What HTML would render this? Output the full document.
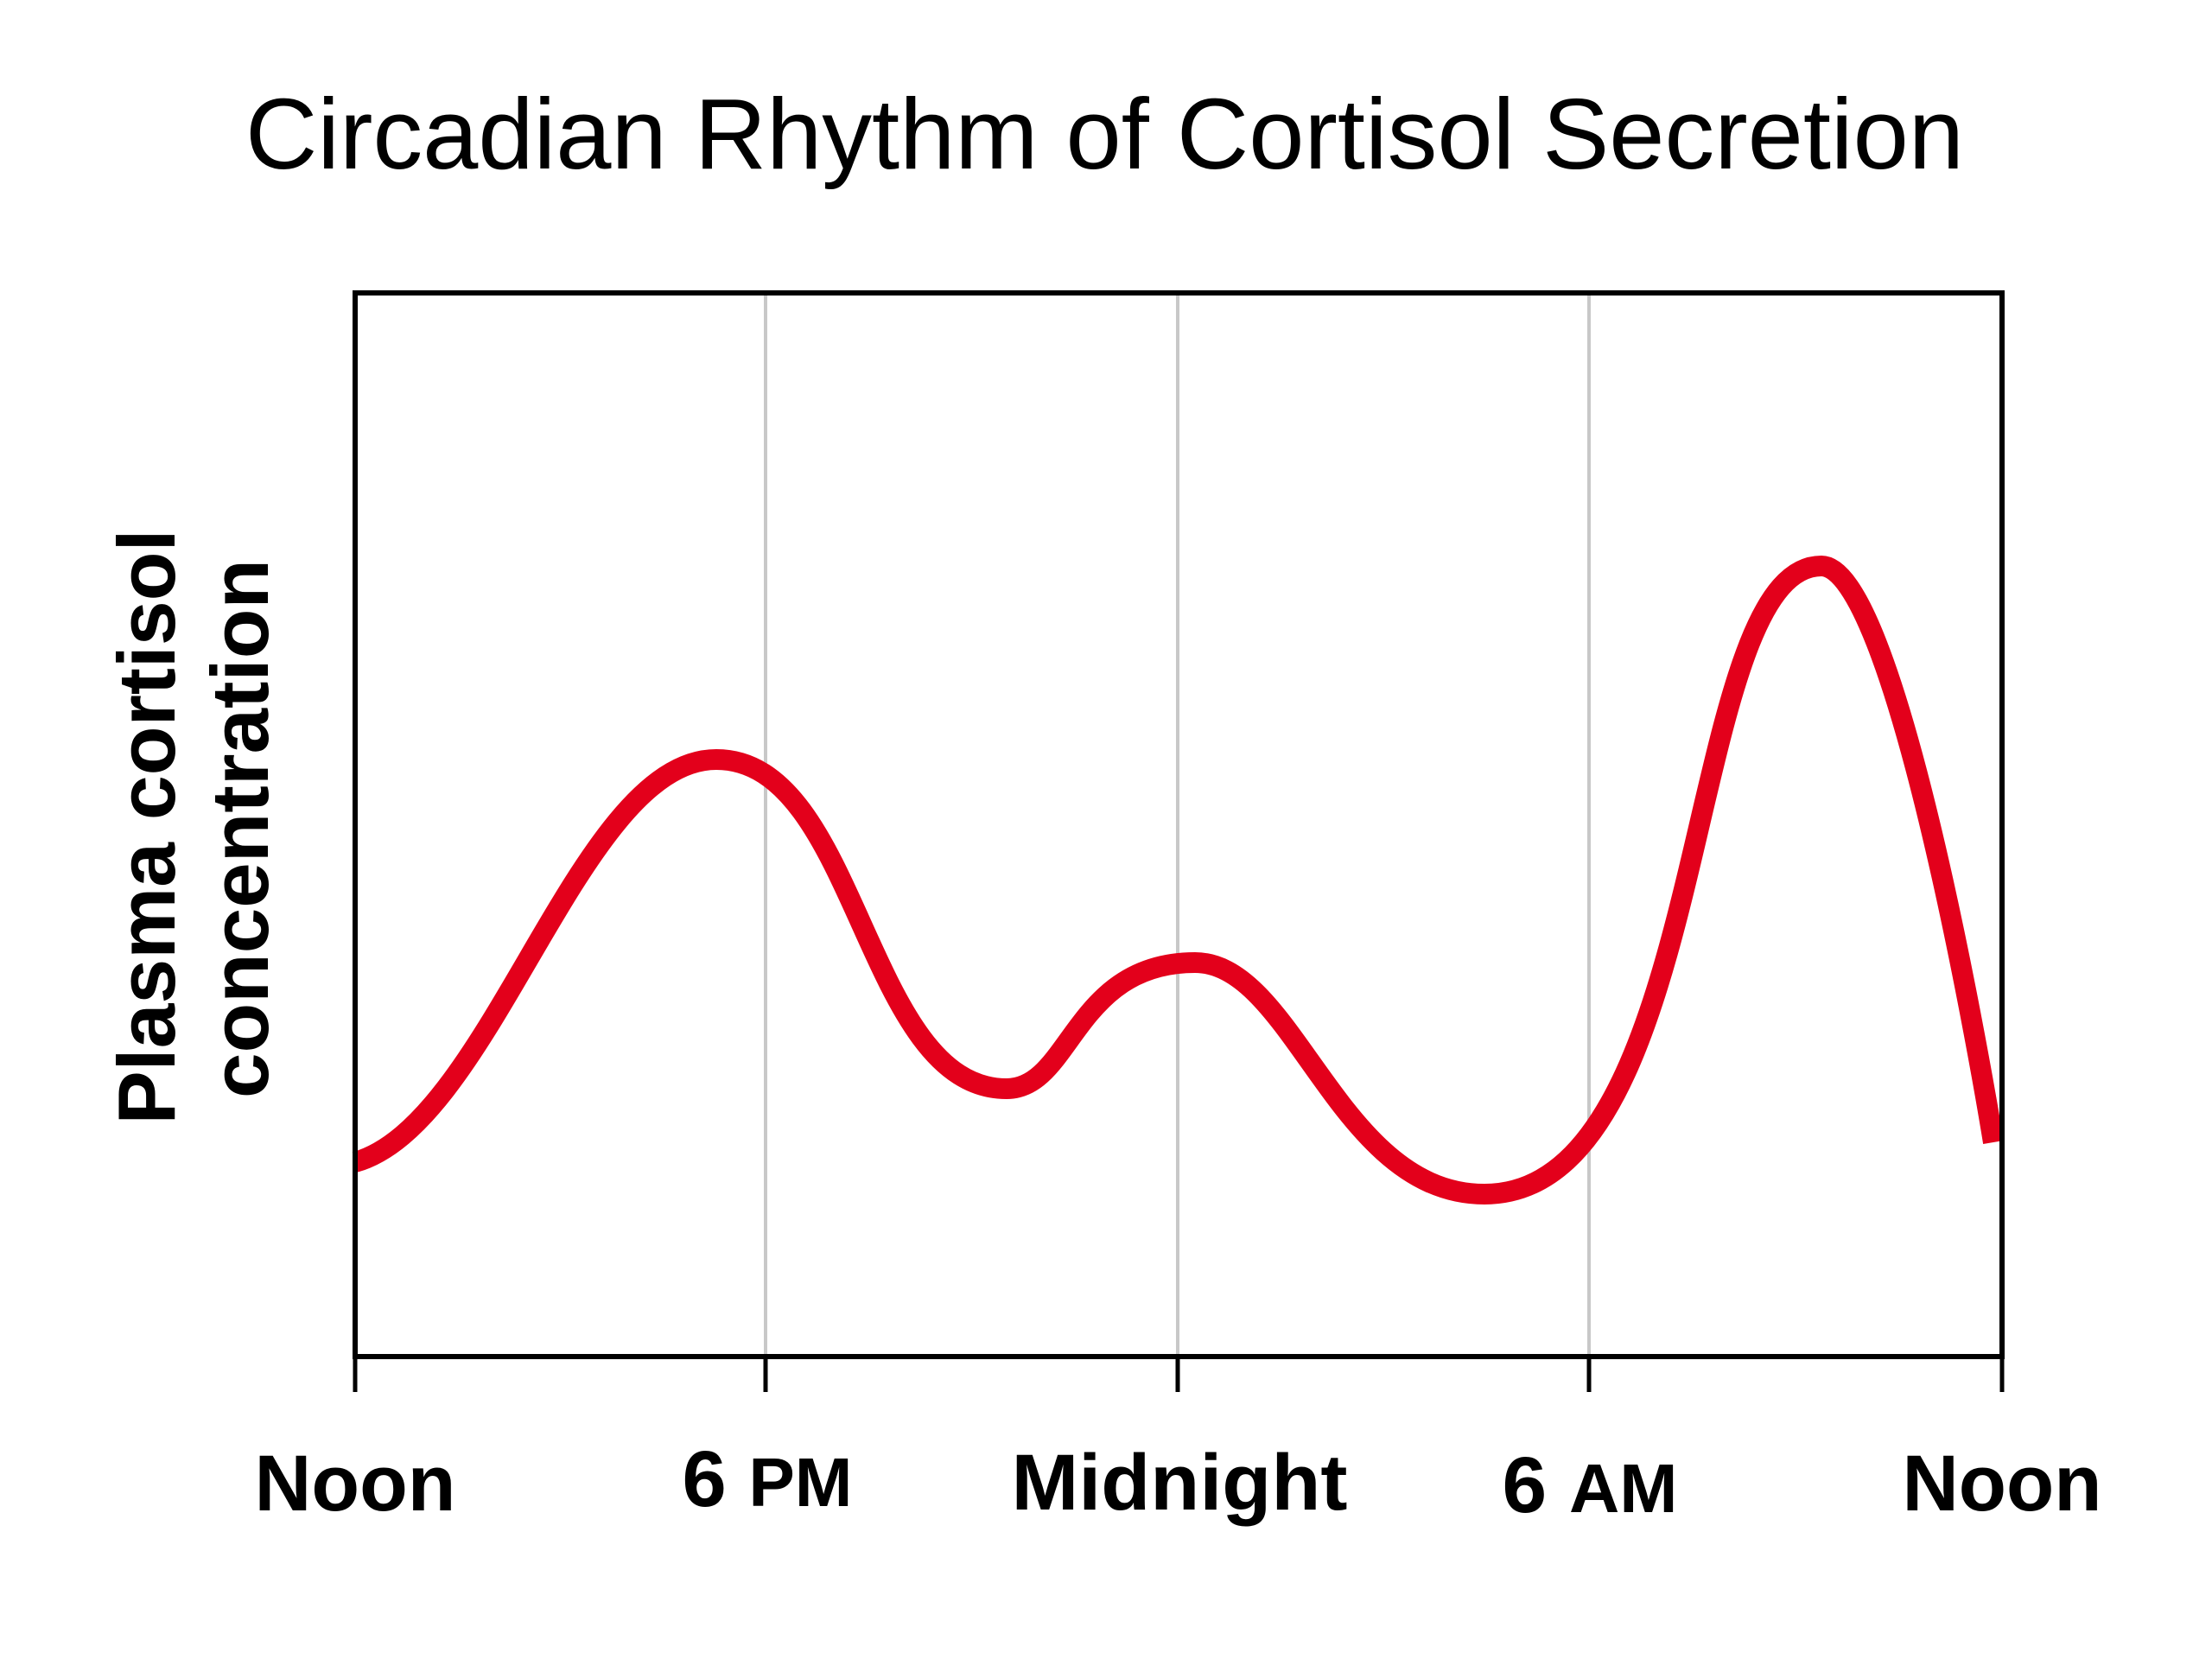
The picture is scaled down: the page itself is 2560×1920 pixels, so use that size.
<!DOCTYPE html>
<html>
<head>
<meta charset="utf-8">
<style>
  html, body { margin: 0; padding: 0; background: #ffffff; }
  body { width: 2560px; height: 1920px; overflow: hidden; }
  svg { display: block; }
</style>
</head>
<body>
<svg width="2560" height="1920" viewBox="0 0 2560 1920" xmlns="http://www.w3.org/2000/svg">
  <rect x="0" y="0" width="2560" height="1920" fill="#ffffff"/>

  <text x="284" y="195" font-family="'Liberation Sans', sans-serif" font-size="116" fill="#000" textLength="1989" lengthAdjust="spacingAndGlyphs">Circadian Rhythm of Cortisol Secretion</text>

  <g stroke="#c8c8c8" stroke-width="4">
    <line x1="886" y1="339" x2="886" y2="1570"/>
    <line x1="1363" y1="339" x2="1363" y2="1570"/>
    <line x1="1839" y1="339" x2="1839" y2="1570"/>
  </g>

  <path d="M411,1345 C570,1300 670,879 829,879 C994,879 1000,1260 1165,1260 C1240,1260 1242,1114 1383,1114 C1498,1114 1548,1382 1718,1382 C1983,1382 1946,655 2108,655 C2191,655 2289,1212 2307,1322"
        fill="none" stroke="#e3001b" stroke-width="24" stroke-linejoin="round" stroke-linecap="butt"/>

  <rect x="411" y="339" width="1906" height="1231" fill="none" stroke="#000" stroke-width="6"/>

  <g stroke="#000" stroke-width="5">
    <line x1="411" y1="1570" x2="411" y2="1611"/>
    <line x1="886" y1="1570" x2="886" y2="1611"/>
    <line x1="1363" y1="1570" x2="1363" y2="1611"/>
    <line x1="1839" y1="1570" x2="1839" y2="1611"/>
    <line x1="2317" y1="1570" x2="2317" y2="1611"/>
  </g>

  <g font-family="'Liberation Sans', sans-serif" font-weight="bold" fill="#000" text-anchor="middle">
    <text x="411" y="1748" font-size="92" textLength="233" lengthAdjust="spacingAndGlyphs">Noon</text>
    <text x="888" y="1743" font-size="92" textLength="197" lengthAdjust="spacingAndGlyphs">6 <tspan font-size="80">PM</tspan></text>
    <text x="1365" y="1747" font-size="92" textLength="389" lengthAdjust="spacingAndGlyphs">Midnight</text>
    <text x="1840" y="1750" font-size="92" textLength="203" lengthAdjust="spacingAndGlyphs">6 <tspan font-size="80">AM</tspan></text>
    <text x="2317" y="1748" font-size="92" textLength="231" lengthAdjust="spacingAndGlyphs">Noon</text>
  </g>

  <g font-family="'Liberation Sans', sans-serif" font-weight="bold" fill="#000" text-anchor="middle" font-size="94">
    <text transform="translate(202,957) rotate(-90)" x="0" y="0" textLength="689" lengthAdjust="spacingAndGlyphs">Plasma cortisol</text>
    <text transform="translate(310,959) rotate(-90)" x="0" y="0" textLength="624" lengthAdjust="spacingAndGlyphs">concentration</text>
  </g>
</svg>
</body>
</html>
